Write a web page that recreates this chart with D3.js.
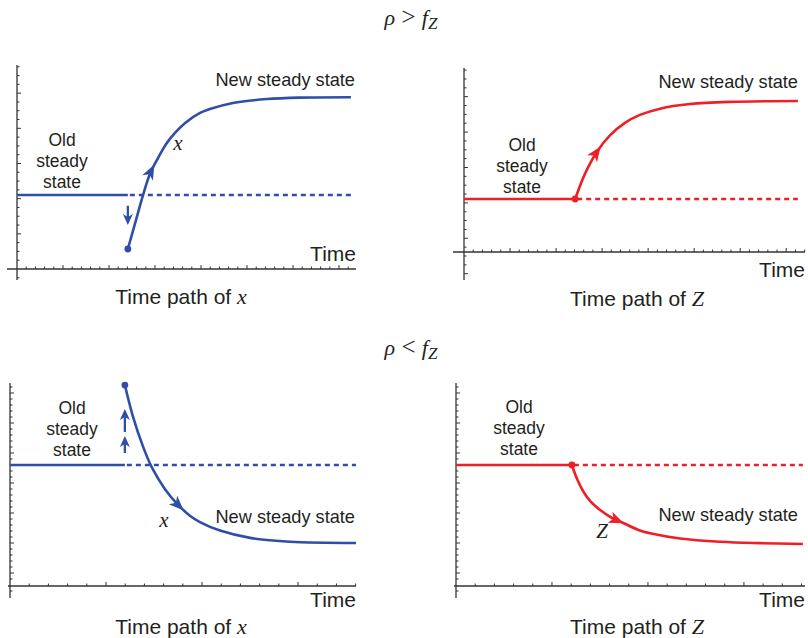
<!DOCTYPE html>
<html>
<head>
<meta charset="utf-8">
<script src="https://cdn.jsdelivr.net/npm/d3@7"></script>
<style>
  body { margin: 0; background: #fff; }
</style>
</head>
<body>
<script>
// ---- data (time, level), in panel units 0..10 ----
var shockTimes = [3.27, 3.26, 3.32, 3.32];
var oldLevels  = [3.63, 2.88, 5.96, 5.96];
var dottedEnds = [9.88, 9.79, 10.0, 9.94];
var arrowTimes = [4.04, 3.99, 5.0, 4.78];

// rho > fZ : x jumps down then rises
var xRisePath = [[3.27,0.98],[3.51,2.40],[3.72,3.63],[3.92,4.66],[4.16,5.44],[4.40,6.13],
  [4.66,6.67],[4.96,7.16],[5.40,7.65],[5.69,7.84],[6.37,8.14],[7.37,8.33],[8.35,8.40],[9.85,8.42]];
// rho > fZ : Z rises
var zRisePath = [[3.26,2.88],[3.55,4.26],[3.90,5.45],[4.28,6.34],[4.72,7.02],[5.16,7.45],
  [5.75,7.79],[6.63,8.04],[7.80,8.16],[9.79,8.21]];
// rho < fZ : x jumps up then falls
var xFallPath = [[3.32,9.90],[3.55,8.37],[3.84,6.89],[4.10,5.84],[4.48,4.77],[4.83,4.05],
  [5.20,3.46],[5.49,3.15],[6.07,2.73],[6.94,2.37],[8.09,2.18],[10.0,2.12]];
// rho < fZ : Z falls
var zFallPath = [[3.32,5.96],[3.47,5.27],[3.64,4.68],[3.84,4.19],[4.13,3.74],[4.47,3.35],
  [4.76,3.13],[5.27,2.73],[5.56,2.60],[6.42,2.34],[7.56,2.18],[8.71,2.11],[9.94,2.07]];

// jump arrows on the x panels: [from, to]
var jumpArrows = [[[3.1, 2.16]], [], [[6.55, 7.39], [7.59, 8.72]], []];

var curveNames = ["x", "", "x", "Z"];
var captionVars = ["x", "Z", "x", "Z"];
var titles = [[">", 25], ["<", 355]];

// ---- layout ----
var W = 808, H = 638;
var blue = "#2f4ea6", red = "#ee1f26", ink = "#231f20";
var sans = "'Liberation Sans', Arial, Helvetica, sans-serif";
var serif = "'Liberation Serif', 'Times New Roman', serif";

var panels = [
  {x0: 17, x1: 356, y0: 269, y1: 65, axL: 7, axB: 280, color: blue, path: xRisePath,
   xStep: 0.2714, yBase: 0, yStep: 0.431, yMaj: 4,
   old: [62, 146], neu: [355, 86], time: [356, 261], cap: [181, 304], lab: [178, 150]},
  {x0: 464, x1: 805, y0: 252, y1: 68, axL: 453, axB: 280, color: red, path: zRisePath,
   xStep: 0.27, yBase: 0.745, yStep: 0.481, yMaj: 4,
   old: [522, 151], neu: [798, 88], time: [805, 277], cap: [637, 306], lab: null},
  {x0: 10, x1: 356, y0: 586, y1: 383, axL: 8, axB: 598, color: blue, path: xFallPath,
   xStep: 0.555, yBase: 0.64, yStep: 0.2956, yMaj: 5,
   old: [72, 414], neu: [355, 523], time: [356, 607], cap: [181, 634], lab: [164, 527]},
  {x0: 456, x1: 805, y0: 586, y1: 383, axL: 454, axB: 598, color: red, path: zFallPath,
   xStep: 0.55, yBase: 0.64, yStep: 0.2956, yMaj: 5,
   old: [519, 413], neu: [798, 521], time: [805, 607], cap: [637, 634], lab: [602, 538]}
];

var svg = d3.select("body").append("svg")
    .attr("width", W)
    .attr("height", H)
    .style("font-family", sans);

var headPath = "M1,0L-14,-6L-10,0L-14,6Z";

// titles
titles.forEach(function(t) {
  var txt = svg.append("text")
      .attr("x", 411).attr("y", t[1])
      .attr("text-anchor", "middle")
      .style("font-family", serif)
      .style("font-size", "22px")
      .attr("fill", ink);
  txt.append("tspan").style("font-style", "italic").text("\u03c1");
  txt.append("tspan").style("font-size", "25px").text(" " + t[0] + " ");
  txt.append("tspan").style("font-style", "italic").text("f");
  txt.append("tspan").style("font-style", "italic").style("font-size", "17px")
      .attr("dy", 4).text("Z");
});

panels.forEach(function(p, i) {
  var x = d3.scaleLinear().domain([0, 10]).range([p.x0, p.x1]);
  var y = d3.scaleLinear().domain([0, 10]).range([p.y0, p.y1]);
  var g = svg.append("g");

  // axis lines
  g.append("line")
      .attr("x1", p.axL).attr("x2", x(10))
      .attr("y1", y(0)).attr("y2", y(0))
      .attr("stroke", "#333").attr("stroke-width", 1.3);
  g.append("line")
      .attr("x1", x(0)).attr("x2", x(0))
      .attr("y1", p.axB).attr("y2", y(10))
      .attr("stroke", "#333").attr("stroke-width", 1.3);

  // x ticks (pointing up)
  var xt = d3.range(1, Math.floor(10 / p.xStep) + 1).map(function(k) { return [k * p.xStep, k % 5 == 0]; });
  g.selectAll(".xt").data(xt).enter().append("line")
      .attr("x1", function(d) { return x(d[0]); })
      .attr("x2", function(d) { return x(d[0]); })
      .attr("y1", y(0))
      .attr("y2", function(d) { return y(0) - (d[1] ? 4 : 2.5); })
      .attr("stroke", "#333").attr("stroke-width", 1);

  // y ticks (pointing right)
  var yMin = y.invert(p.axB);
  var yt = d3.range(-20, 60).map(function(k) { return [p.yBase + k * p.yStep, ((k % p.yMaj) + p.yMaj) % p.yMaj == 0]; })
      .filter(function(d) { return d[0] > yMin + 0.05 && d[0] < 10 - 0.05 && Math.abs(d[0]) > 0.05; });
  g.selectAll(".yt").data(yt).enter().append("line")
      .attr("x1", x(0))
      .attr("x2", function(d) { return x(0) + (d[1] ? 4 : 2.5); })
      .attr("y1", function(d) { return y(d[0]); })
      .attr("y2", function(d) { return y(d[0]); })
      .attr("stroke", "#333").attr("stroke-width", 1);

  // old steady state: solid then dotted
  g.append("line")
      .attr("x1", x(0)).attr("x2", x(shockTimes[i]))
      .attr("y1", y(oldLevels[i])).attr("y2", y(oldLevels[i]))
      .attr("stroke", p.color).attr("stroke-width", 2.6);
  g.append("line")
      .attr("x1", x(shockTimes[i]) + 2).attr("x2", x(dottedEnds[i]))
      .attr("y1", y(oldLevels[i])).attr("y2", y(oldLevels[i]))
      .attr("stroke", p.color).attr("stroke-width", 2.6)
      .attr("stroke-dasharray", "5,4");

  // adjustment path
  var line = d3.line()
      .x(function(d) { return x(d[0]); })
      .y(function(d) { return y(d[1]); })
      .curve(d3.curveCatmullRom);
  var path = g.append("path")
      .datum(p.path)
      .attr("d", line)
      .attr("fill", "none")
      .attr("stroke", p.color)
      .attr("stroke-width", 2.6);

  // arrowhead on the path
  var node = path.node(), L = node.getTotalLength(), lo = 0, hi = L, tx = x(arrowTimes[i]);
  for (var n = 0; n < 40; n++) {
    var mid = (lo + hi) / 2;
    if (node.getPointAtLength(mid).x < tx) lo = mid; else hi = mid;
  }
  var pa = node.getPointAtLength(lo), pb = node.getPointAtLength(Math.max(0, lo - 4));
  var ang = Math.atan2(pa.y - pb.y, pa.x - pb.x) * 180 / Math.PI;
  g.append("path")
      .attr("d", headPath)
      .attr("transform", "translate(" + pa.x + "," + pa.y + ") rotate(" + ang + ")")
      .attr("fill", p.color);

  // dot at start of the path
  g.append("circle")
      .attr("cx", x(p.path[0][0])).attr("cy", y(p.path[0][1]))
      .attr("r", 3.4).attr("fill", p.color);

  // jump arrows
  jumpArrows[i].forEach(function(a) {
    var dir = a[1] > a[0] ? -1 : 1;
    g.append("line")
        .attr("x1", x(shockTimes[i])).attr("x2", x(shockTimes[i]))
        .attr("y1", y(a[0])).attr("y2", y(a[1]) - dir * 7)
        .attr("stroke", p.color).attr("stroke-width", 2.3);
    g.append("path")
        .attr("d", "M0,0L-11,-5L-8,0L-11,5Z")
        .attr("transform", "translate(" + x(shockTimes[i]) + "," + y(a[1]) + ") rotate(" + (dir * 90) + ")")
        .attr("fill", p.color);
  });

  // labels
  ["Old", "steady", "state"].forEach(function(s, k) {
    g.append("text")
        .attr("x", p.old[0]).attr("y", p.old[1] + k * 21)
        .attr("text-anchor", "middle")
        .style("font-size", "17.5px")
        .attr("fill", ink)
        .text(s);
  });
  g.append("text")
      .attr("x", p.neu[0]).attr("y", p.neu[1])
      .attr("text-anchor", "end")
      .style("font-size", "18.2px")
      .attr("fill", ink)
      .text("New steady state");
  g.append("text")
      .attr("x", p.time[0]).attr("y", p.time[1])
      .attr("text-anchor", "end")
      .style("font-size", "21px")
      .attr("fill", ink)
      .text("Time");
  var cap = g.append("text")
      .attr("x", p.cap[0]).attr("y", p.cap[1])
      .attr("text-anchor", "middle")
      .style("font-size", "21px")
      .attr("fill", ink);
  cap.append("tspan").text("Time path of ");
  cap.append("tspan")
      .style("font-family", serif).style("font-style", "italic").style("font-size", "22px")
      .text(captionVars[i]);
  if (p.lab) {
    g.append("text")
        .attr("x", p.lab[0]).attr("y", p.lab[1])
        .attr("text-anchor", "middle")
        .style("font-family", serif).style("font-style", "italic")
        .style("font-size", "21px")
        .attr("fill", ink)
        .text(curveNames[i]);
  }
});
</script>
</body>
</html>
